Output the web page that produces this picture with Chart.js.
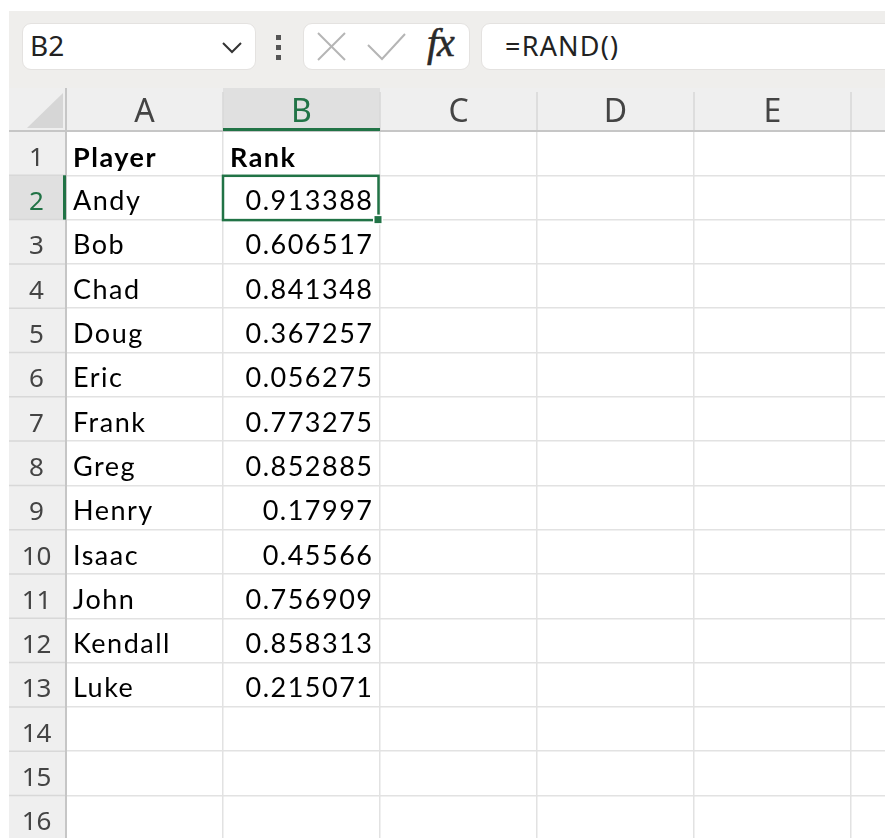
<!DOCTYPE html>
<html>
<head>
<meta charset="utf-8">
<script src="https://cdn.jsdelivr.net/npm/chart.js@4"></script>
<style>
  body { margin: 0; background: #fff; width: 885px; height: 838px; overflow: hidden; position: relative; font-family: "Noto Sans", sans-serif; }
  .bar { position: absolute; left: 9px; top: 11px; width: 876px; height: 77px; background: #efeeec; }
  .box { position: absolute; top: 23px; height: 47px; background: #fff; border: 1px solid #e4e2e0; border-radius: 9px; box-sizing: border-box; }
  .txt { position: absolute; color: #222; white-space: nowrap; }
  #sheet { position: absolute; left: 9px; top: 88px; }
</style>
</head>
<body>
<div class="bar"></div>
<div class="box" style="left:22px;width:234px;"></div>
<div class="txt" style="left:30px;top:26px;font-size:28px;line-height:38px;">B2</div>
<svg style="position:absolute;left:0;top:0" width="885" height="88">
  <polyline points="223,43 232,52 241,43" fill="none" stroke="#333" stroke-width="2"/>
  <rect x="276" y="35" width="5" height="5" fill="#555"/>
  <rect x="276" y="45" width="5" height="5" fill="#555"/>
  <rect x="276" y="55" width="5" height="5" fill="#555"/>
</svg>
<div class="box" style="left:303px;width:167px;"></div>
<div class="box" style="left:481px;width:430px;"></div>
<svg style="position:absolute;left:0;top:0" width="885" height="88">
  <line x1="318" y1="33" x2="345" y2="60" stroke="#b5b5b5" stroke-width="2"/>
  <line x1="345" y1="33" x2="318" y2="60" stroke="#b5b5b5" stroke-width="2"/>
  <polyline points="368,45 382,59 405,34" fill="none" stroke="#b5b5b5" stroke-width="2"/>
</svg>
<div class="txt" style="left:427px;top:20px;font-size:40px;line-height:46px;font-family:'Liberation Serif',serif;font-style:italic;color:#2a2a2a;letter-spacing:-1px;-webkit-text-stroke:0.6px #2a2a2a;">fx</div>
<div class="txt" style="left:505px;top:27px;font-size:27px;line-height:38px;letter-spacing:1.2px;">=RAND()</div>
<canvas id="sheet" width="876" height="750"></canvas>
<script>
// spreadsheet content
var columnLetters = ['A', 'B', 'C', 'D', 'E'];
var rowNumbers = [1, 2, 3, 4, 5, 6, 7, 8, 9, 10, 11, 12, 13, 14, 15, 16];
var headers = ['Player', 'Rank'];
var players = ['Andy', 'Bob', 'Chad', 'Doug', 'Eric', 'Frank', 'Greg', 'Henry', 'Isaac', 'John', 'Kendall', 'Luke'];
var ranks = [0.913388, 0.606517, 0.841348, 0.367257, 0.056275, 0.773275, 0.852885, 0.17997, 0.45566, 0.756909, 0.858313, 0.215071];
var selectedCol = 1; // B
var selectedRow = 1; // row 2 (0-based)

var GREEN = '#217346';

var sheetPlugin = {
    id: 'sheet',
    afterDraw: function (chart) {
        var ctx = chart.ctx;
        var xs = chart.scales.x, ys = chart.scales.y;
        var area = chart.chartArea;
        var W = chart.width, H = chart.height;
        var top = area.top, left = area.left;
        var colX = function (i) { return xs.getPixelForValue(i); };
        var rowY = function (i) { return ys.getPixelForValue(i); };
        var nCols = Math.ceil(xs.max), nRows = Math.ceil(ys.max);

        ctx.save();
        // header bands
        ctx.fillStyle = '#efefef';
        ctx.fillRect(0, 0, W, top);
        ctx.fillRect(0, top, left, H - top);
        ctx.fillStyle = '#e0e0e0';
        ctx.fillRect(colX(selectedCol), 0, colX(selectedCol + 1) - colX(selectedCol), top);
        ctx.fillRect(0, rowY(selectedRow), left, rowY(selectedRow + 1) - rowY(selectedRow));

        // separators
        ctx.strokeStyle = '#d8d8d8';
        ctx.lineWidth = 1.5;
        ctx.beginPath();
        for (var c = 0; c <= nCols; c++) {
            ctx.moveTo(colX(c), 4);
            ctx.lineTo(colX(c), top);
        }
        for (var r = 0; r <= nRows; r++) {
            ctx.moveTo(0, rowY(r));
            ctx.lineTo(left, rowY(r));
        }
        ctx.stroke();
        ctx.strokeStyle = '#c6c6c6';
        ctx.lineWidth = 2;
        ctx.beginPath();
        ctx.moveTo(0, top); ctx.lineTo(W, top);
        ctx.moveTo(left, 0); ctx.lineTo(left, H);
        ctx.stroke();

        // selection markers in headers
        ctx.fillStyle = GREEN;
        ctx.fillRect(colX(selectedCol), top - 3, colX(selectedCol + 1) - colX(selectedCol), 3);
        ctx.fillRect(left - 3, rowY(selectedRow), 3, rowY(selectedRow + 1) - rowY(selectedRow));

        // corner triangle
        ctx.fillStyle = '#d6d6d6';
        ctx.beginPath();
        ctx.moveTo(left - 3, 5);
        ctx.lineTo(left - 3, top - 3);
        ctx.lineTo(18, top - 3);
        ctx.closePath();
        ctx.fill();

        // column letters
        ctx.font = '32px "Noto Sans"';
        ctx.textAlign = 'center';
        ctx.textBaseline = 'alphabetic';
        columnLetters.forEach(function (l, i) {
            ctx.fillStyle = i === selectedCol ? GREEN : '#444';
            ctx.fillText(l, (colX(i) + colX(i + 1)) / 2, top - 9);
        });

        // row numbers
        ctx.font = '26px "Noto Sans"';
        rowNumbers.forEach(function (n, i) {
            ctx.fillStyle = i === selectedRow ? GREEN : '#444';
            ctx.fillText(String(n), left / 2 - 1, rowY(i + 1) - 9.5);
        });

        // cells
        ctx.letterSpacing = '1.5px';
        ctx.fillStyle = '#000';
        ctx.textAlign = 'left';
        ctx.font = 'bold 27px Lato';
        headers.forEach(function (h, i) {
            ctx.fillText(h, colX(i) + 7, rowY(1) - 8);
        });
        ctx.font = '27px Lato';
        players.forEach(function (p, i) {
            ctx.fillText(p, colX(0) + 7, rowY(i + 2) - 9.5);
        });
        ctx.textAlign = 'right';
        ranks.forEach(function (v, i) {
            ctx.fillText(String(v), colX(2) - 6.5, rowY(i + 2) - 9.5);
        });
        ctx.letterSpacing = '0px';

        // active cell frame
        var x1 = colX(selectedCol), x2 = colX(selectedCol + 1);
        var y1 = rowY(selectedRow), y2 = rowY(selectedRow + 1);
        ctx.strokeStyle = GREEN;
        ctx.lineWidth = 2.5;
        ctx.strokeRect(x1, y1 + 0.5, x2 - x1 - 1.5, y2 - y1);
        ctx.fillStyle = '#fff';
        ctx.fillRect(x2 - 7, y2 - 5, 10, 10);
        ctx.fillStyle = GREEN;
        ctx.fillRect(x2 - 5.5, y2 - 3.5, 7, 7);
        ctx.restore();
    }
};

var canvas = document.getElementById('sheet');
var sheetChart = new Chart(canvas.getContext('2d'), {
    type: 'scatter',
    data: { datasets: [] },
    options: {
        responsive: false,
        animation: false,
        devicePixelRatio: 1,
        layout: { padding: { left: 57, top: 43, right: 0, bottom: 0 } },
        plugins: { legend: { display: false }, tooltip: { enabled: false } },
        scales: {
            x: {
                type: 'linear', min: 0, max: 819 / 157,
                ticks: { display: false, stepSize: 1, includeBounds: false },
                grid: { color: '#e2e2e2', lineWidth: 1.5, drawTicks: false },
                border: { display: false }
            },
            y: {
                type: 'linear', reverse: true, min: 0, max: 707 / 44.3,
                ticks: { display: false, stepSize: 1, includeBounds: false },
                grid: { color: '#e2e2e2', lineWidth: 1.5, drawTicks: false },
                border: { display: false }
            }
        }
    },
    plugins: [sheetPlugin]
});
</script>
</body>
</html>
